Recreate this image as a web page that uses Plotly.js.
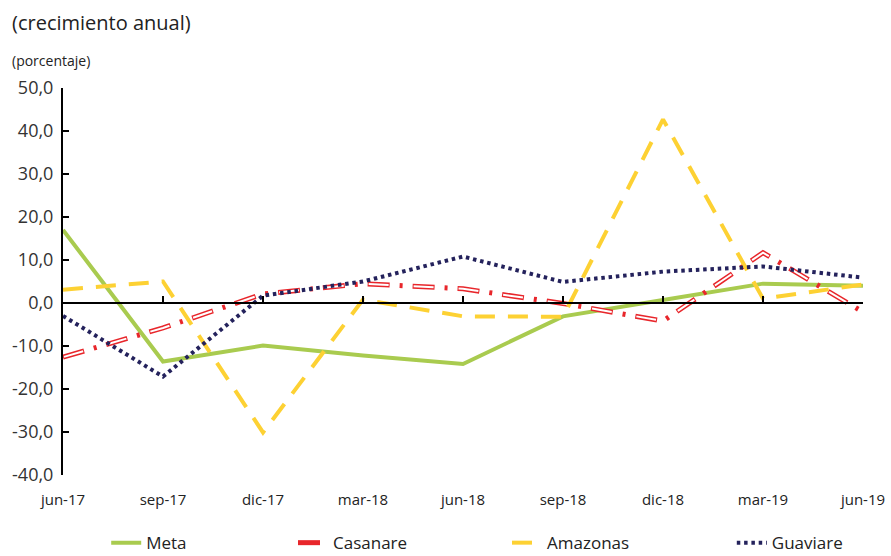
<!DOCTYPE html>
<html>
<head>
<meta charset="utf-8">
<script src="https://cdn.plot.ly/plotly-3.0.1.min.js"></script>
<style>html,body{margin:0;padding:0;background:#fff;}#chart{width:891px;height:556px;}</style>
</head>
<body>
<div id="chart"></div>
<script>
// Data (annual growth, %)
const categories = ["jun-17","sep-17","dic-17","mar-18","jun-18","sep-18","dic-18","mar-19","jun-19"];
const meta      = [17.0, -13.6, -9.9, -12.2, -14.2, -3.1,  0.7,  4.5,  4.0];
const casanare  = [-12.6, -5.8,  2.1,   4.5,   3.3, -0.1, -4.2, 11.7, -2.1];
const amazonas  = [ 3.1,   5.0, -30.1,  0.8,  -3.1, -3.2, 42.7,  1.0,  4.3];
const guaviare  = [-3.0, -17.1,  1.7,   5.0,  10.8,  4.9,  7.3,  8.5,  5.9];
const yTickVals = [50, 40, 30, 20, 10, 0, -10, -20, -30, -40];
const yTickText = ["50,0","40,0","30,0","20,0","10,0","0,0","-10,0","-20,0","-30,0","-40,0"];

const FONT = "'Open Sans', Lato, 'DejaVu Sans', sans-serif";

const traces = [
  {x: categories, y: meta, name: "Meta", type: "scatter", mode: "lines",
   line: {color: "#a9cb4f", width: 4}, legend: "legend"},
  {x: categories, y: casanare, name: "Casanare", type: "scatter", mode: "lines",
   line: {color: "#e8262b", width: 5, dash: "22px,10px,3px,10px"}, legend: "legend2"},
  {x: categories, y: casanare, name: "Casanare", type: "scatter", mode: "lines", showlegend: false,
   hoverinfo: "skip", line: {color: "#ffffff", width: 2, dash: "0px,1px,20px,24px"}},
  {x: categories, y: amazonas, name: "Amazonas", type: "scatter", mode: "lines",
   line: {color: "#fdd133", width: 4, dash: "20px,13px"}, legend: "legend3"},
  {x: categories, y: guaviare, name: "Guaviare", type: "scatter", mode: "lines",
   line: {color: "#24225c", width: 4, dash: "3.5px,3.8px"}, legend: "legend4"},
  // carrier for the category axis drawn at y = 0
  {x: categories, y: categories.map(() => null), xaxis: "x2", type: "scatter", mode: "lines",
   showlegend: false, hoverinfo: "skip"}
];

function leg(xf) {
  return {x: xf, xanchor: "left", y: -0.176, yanchor: "middle", orientation: "h",
          bgcolor: "rgba(0,0,0,0)", borderwidth: 0, font: {family: FONT, size: 17, color: "#222"}};
}

const layout = {
  width: 891, height: 556,
  margin: {l: 63, r: 28, t: 88, b: 81, autoexpand: false},
  paper_bgcolor: "#ffffff", plot_bgcolor: "#ffffff",
  font: {family: FONT, color: "#333"},
  xaxis: {type: "category", range: [0, 8], showgrid: false, zeroline: false, showline: false,
          ticks: "", tickfont: {family: FONT, size: 15, color: "#222"}, ticklabelstandoff: 14},
  xaxis2: {type: "category", overlaying: "x", anchor: "free", position: 40/90, side: "bottom",
           range: [0, 8], showgrid: false, zeroline: false, showline: true, linecolor: "#000", linewidth: 2,
           ticks: "inside", ticklen: 6, tickwidth: 2, tickcolor: "#000", showticklabels: false},
  yaxis: {range: [-40, 50], tickvals: yTickVals, ticktext: yTickText, showgrid: false,
          zeroline: false, showline: true, linecolor: "#000", linewidth: 2,
          ticks: "inside", ticklen: 6, tickwidth: 2, tickcolor: "#000",
          tickfont: {family: FONT, size: 18, color: "#333"}, ticklabelstandoff: 4},
  showlegend: true,
  legend: leg(0.054), legend2: leg(0.2875), legend3: leg(0.555), legend4: leg(0.836),
  annotations: [
    {text: "(crecimiento anual)", xref: "paper", yref: "paper", x: -0.066, y: 1.17,
     xanchor: "left", yanchor: "middle", showarrow: false, font: {family: FONT, size: 20, color: "#222"}},
    {text: "(porcentaje)", xref: "paper", yref: "paper", x: -0.066, y: 1.072,
     xanchor: "left", yanchor: "middle", showarrow: false, font: {family: FONT, size: 14, color: "#222"}}
  ]
};

Plotly.newPlot("chart", traces, layout, {displayModeBar: false, staticPlot: true});
</script>
</body>
</html>
